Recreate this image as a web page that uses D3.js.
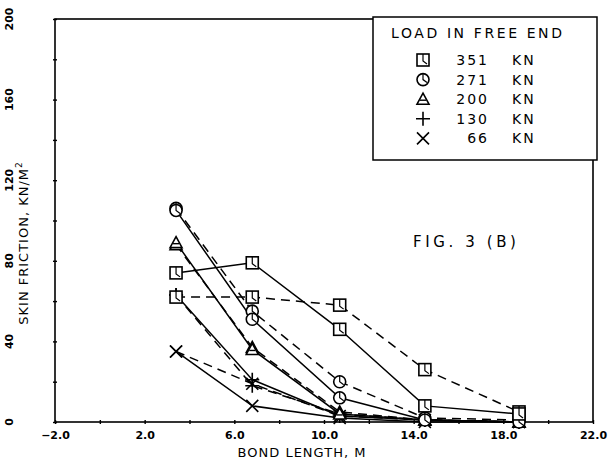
<!DOCTYPE html>
<html><head><meta charset="utf-8">
<script src="https://cdn.jsdelivr.net/npm/d3@7"></script>
<style>body{margin:0;background:#fff}svg{display:block}</style>
</head><body>
<script>
const bondLength = [3.4, 6.8, 10.7, 14.5, 18.7];
const loads = ["351", "271", "200", "130", "66"];
const symbols = ["square", "circle", "triangle", "plus", "cross"];
// solid lines
const solid351 = [74, 79, 46, 8, 4];
const solid271 = [105, 51, 12, 1, 0];
const solid200 = [89, 36, 4, 1, 0];
const solid130 = [63, 21, 3, 1, 0];
const solid66  = [35, 8, 2, 0, 0];
// dashed lines
const dash351 = [62, 62, 58, 26, 5];
const dash271 = [106, 55, 20, 2, 1];
const dash200 = [88, 37, 5, 1, 0];
const dash130 = [63, 18, 4, 1, 0];
const dash66  = [35, 19, 3, 1, 0];
const xTicks = [-2, 2, 6, 10, 14, 18, 22];
const yTicks = [0, 40, 80, 120, 160, 200];

const W = 611, H = 463;
const svg = d3.select("body").append("svg").attr("width", W).attr("height", H);
const x = d3.scaleLinear().domain([-2, 22]).range([55, 593]);
const y = d3.scaleLinear().domain([0, 200]).range([422, 19]);
const font = "'DejaVu Sans', sans-serif";

// frame
svg.append("rect").attr("x", x(-2)).attr("y", y(200)).attr("width", x(22) - x(-2)).attr("height", y(0) - y(200))
  .attr("fill", "none").attr("stroke", "#000").attr("stroke-width", 1.6);

// ticks
const xAxis = d3.axisBottom(x).tickValues(d3.range(-2, 22.1, 2)).tickSize(4).tickFormat(d => xTicks.includes(d) ? d3.format(".1f")(d) : "");
const gx = svg.append("g").attr("transform", `translate(0,${y(0) - 2})`).call(xAxis);
gx.select(".domain").remove();
gx.selectAll("line").attr("stroke-width", 1.4);
gx.selectAll("text").attr("font-family", font).attr("font-weight", "bold").attr("font-size", 11).attr("dy", "0.9em").attr("y", 9);

const yAxis = d3.axisLeft(y).tickValues(d3.range(0, 200.1, 20)).tickSize(4).tickFormat("");
const gy = svg.append("g").attr("transform", `translate(${x(-2) + 2},0)`).call(yAxis);
gy.select(".domain").remove();
gy.selectAll("line").attr("stroke-width", 1.4);
svg.append("g").selectAll("text").data(yTicks).join("text")
  .attr("transform", d => `translate(13,${y(d)}) rotate(-90)`)
  .attr("text-anchor", "middle").attr("font-family", font).attr("font-weight", "bold").attr("font-size", 11)
  .text(d => d);

// axis titles
svg.append("text").attr("x", 302).attr("y", 457).attr("text-anchor", "middle")
  .attr("font-family", font).attr("font-size", 13).attr("letter-spacing", 1).text("BOND LENGTH, M");
const yt = svg.append("text").attr("transform", `translate(28,243) rotate(-90)`).attr("text-anchor", "middle")
  .attr("font-family", font).attr("font-size", 13).attr("letter-spacing", 1);
yt.append("tspan").text("SKIN FRICTION, KN/M");
yt.append("tspan").attr("dy", -6).attr("font-size", 9).text("2");

// series
const solidSets = [solid351, solid271, solid200, solid130, solid66];
const dashSets = [dash351, dash271, dash200, dash130, dash66];
const line = d3.line().x((d, i) => x(bondLength[i])).y(d => y(d));
const lg = svg.append("g").attr("fill", "none").attr("stroke", "#000").attr("stroke-width", 1.5);
dashSets.forEach(s => lg.append("path").attr("d", line(s)).attr("stroke-dasharray", "9,6"));
solidSets.forEach(s => lg.append("path").attr("d", line(s)));

function marker(g, type, cx, cy) {
  const m = g.append("g").attr("transform", `translate(${cx},${cy})`).attr("stroke", "#000").attr("stroke-width", 1.6);
  if (type === "square") {
    m.append("rect").attr("x", -6).attr("y", -6).attr("width", 12).attr("height", 12).attr("fill", "#fff");
    m.append("path").attr("d", "M0,-6V1L4,4").attr("fill", "none").attr("stroke-width", 1.2);
  } else if (type === "circle") {
    m.append("circle").attr("r", 6).attr("fill", "#fff");
    m.append("path").attr("d", "M0,-6V0L4,3").attr("fill", "none").attr("stroke-width", 1.2);
  } else if (type === "triangle") {
    m.append("path").attr("d", "M0,-6L6,5H-6Z").attr("fill", "#fff");
    m.append("path").attr("d", "M-3,1H3").attr("stroke-width", 1.4);
  } else if (type === "plus") {
    m.append("path").attr("d", "M-7,0H7M0,-7V7").attr("fill", "none");
  } else {
    m.append("path").attr("d", "M-6,-6L6,6M-6,6L6,-6").attr("fill", "none");
  }
}
const mg = svg.append("g");
[4, 3, 2, 1, 0].forEach(k => {
  [dashSets[k], solidSets[k]].forEach(s => s.forEach((v, i) => marker(mg, symbols[k], x(bondLength[i]), y(v))));
});

// FIG label
svg.append("text").attr("x", 413).attr("y", 247).attr("font-family", font).attr("font-size", 15)
  .attr("letter-spacing", 3.6).text("FIG. 3 (B)");

// legend
const leg = svg.append("g");
leg.append("rect").attr("x", 373).attr("y", 17).attr("width", 224).attr("height", 143)
  .attr("fill", "#fff").attr("stroke", "#000").attr("stroke-width", 1.5);
leg.append("text").attr("x", 391).attr("y", 38).attr("font-family", font).attr("font-size", 14)
  .attr("letter-spacing", 2.6).text("LOAD IN FREE END");
loads.forEach((l, i) => {
  const cy = 60 + i * 19.6;
  marker(leg, symbols[i], 423, cy);
  leg.append("text").attr("x", 489).attr("y", cy + 5).attr("text-anchor", "end").attr("font-family", font)
    .attr("font-size", 14).attr("letter-spacing", 2).text(l);
  leg.append("text").attr("x", 512).attr("y", cy + 5).attr("font-family", font)
    .attr("font-size", 14).attr("letter-spacing", 2).text("KN");
});
</script>
</body></html>
